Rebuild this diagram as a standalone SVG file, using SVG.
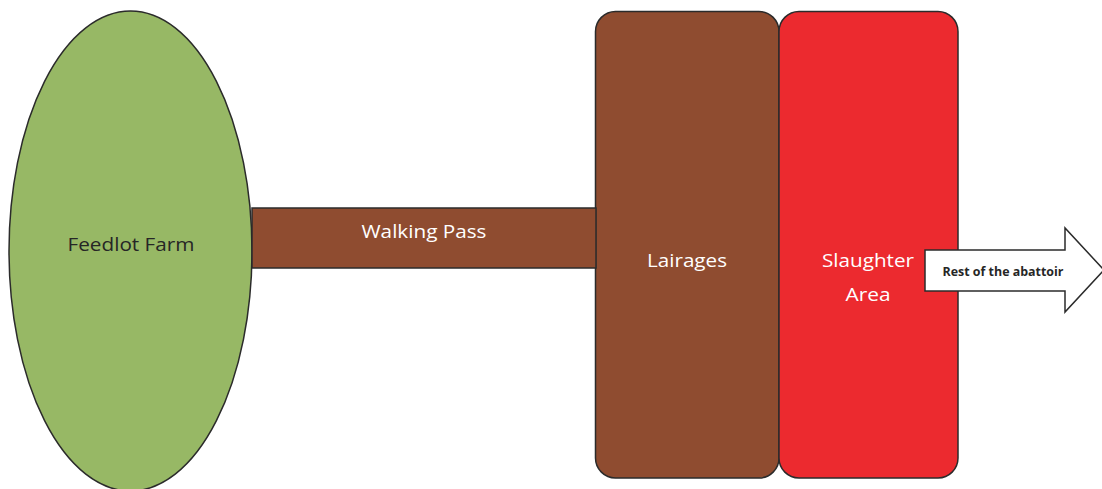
<svg xmlns="http://www.w3.org/2000/svg" width="1102" height="489" viewBox="0 0 1102 489">
<style>
.sh{stroke:#2b2b2b;stroke-width:1.5}
.lbl{font-family:"Open Sans","Noto Sans",sans-serif;font-size:18px;text-anchor:middle}
.w{fill:#ffffff}
.d{fill:#262626}
.b{font-family:"Open Sans","Noto Sans",sans-serif;font-size:11.5px;font-weight:bold;text-anchor:middle;fill:#262626}
</style>
<rect width="1102" height="489" fill="#ffffff"/>
<g id="feedlot-farm">
<ellipse class="sh" cx="130.5" cy="251" rx="121.5" ry="240" fill="#97b865"/>
<text class="lbl d" x="131" y="251" textLength="127" lengthAdjust="spacingAndGlyphs">Feedlot Farm</text>
</g>
<g id="lairages">
<rect class="sh" x="595.5" y="11.5" width="183.5" height="466.5" rx="20" fill="#8f4c30"/>
<text class="lbl w" x="687" y="267" textLength="80" lengthAdjust="spacingAndGlyphs">Lairages</text>
</g>
<g id="slaughter-area">
<rect class="sh" x="779" y="11.5" width="179" height="466.5" rx="20" fill="#ec2a2f"/>
<text class="lbl w" x="868" y="267" textLength="92" lengthAdjust="spacingAndGlyphs">Slaughter</text>
<text class="lbl w" x="868" y="301" textLength="45" lengthAdjust="spacingAndGlyphs">Area</text>
</g>
<g id="connectors">
<g id="walking-pass">
<rect class="sh" x="252" y="208" width="344" height="60" fill="#8f4c30"/>
<text class="lbl w" x="424" y="238" textLength="125" lengthAdjust="spacingAndGlyphs">Walking Pass</text>
</g>
<g id="rest-arrow">
<path class="sh" d="M925,250 H1065 V228 L1104,270 L1065,312 V291 H925 Z" fill="#ffffff"/>
<text class="b" x="1003" y="276" textLength="121" lengthAdjust="spacingAndGlyphs">Rest of the abattoir</text>
</g>
</g>
</svg>
